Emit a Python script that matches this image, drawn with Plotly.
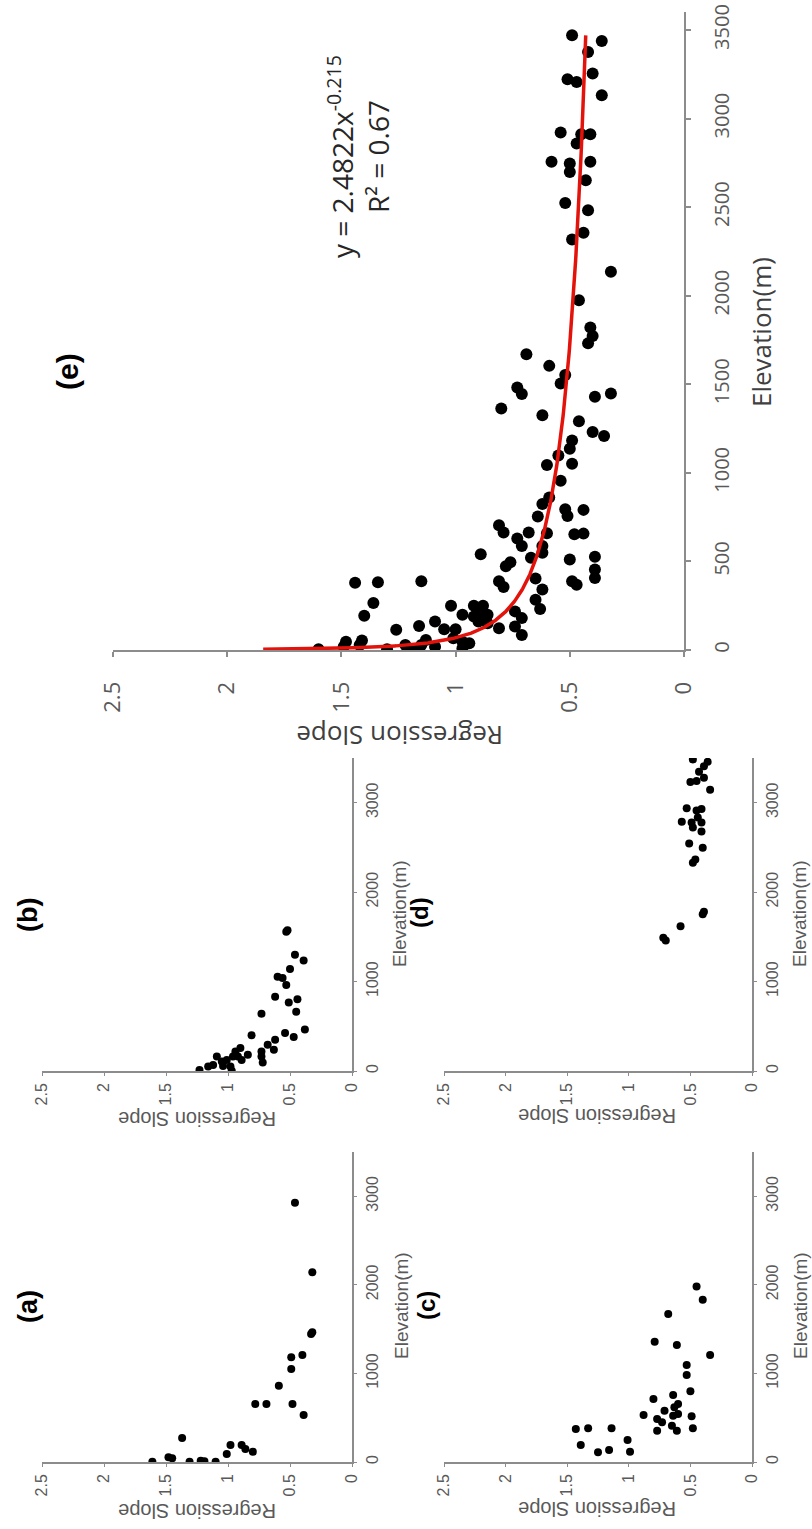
import numpy as np
import plotly.graph_objects as go

W, H = 812, 1529

# ---- data: elevation (m) and regression slope for each region ----
a_elev = [3, 53, 42, 271, 3, 15, 8, 3, 90, 192, 192, 147, 117, 655, 655,
          655, 531, 862, 1051, 1183, 1209, 1446, 1465, 2143, 2927]
a_slope = [1.61, 1.48, 1.45, 1.37, 1.31, 1.22, 1.19, 1.10, 1.01, 0.98, 0.89, 0.86, 0.80, 0.78, 0.69,
           0.48, 0.39, 0.59, 0.49, 0.49, 0.40, 0.33, 0.32, 0.32, 0.46]

b_elev = [1556, 1575, 1300, 1235, 1141, 1055, 1040, 961, 829, 802,
          765, 663, 640, 463, 426, 380, 350, 294, 237, 399,
          218, 162, 94, 181, 256, 218, 162, 162, 124, 124,
          162, 105, 68, 49, 3, 49, 11, 56]
b_slope = [0.53, 0.52, 0.46, 0.39, 0.50, 0.60, 0.56, 0.53, 0.62, 0.44,
           0.51, 0.45, 0.73, 0.38, 0.54, 0.47, 0.62, 0.68, 0.63, 0.81,
           0.73, 0.73, 0.72, 0.84, 0.90, 0.94, 0.96, 0.92, 0.89, 1.01,
           1.09, 1.05, 1.12, 0.98, 0.97, 1.16, 1.23, 1.04]

c_elev = [373, 381, 192, 381, 110, 136, 249, 117, 531, 712,
          354, 486, 448, 580, 410, 354, 523, 618, 655, 757,
          542, 516, 381, 799, 983, 1096, 1209, 1359, 1322, 1672,
          1831, 1981]
c_slope = [1.43, 1.33, 1.39, 1.14, 1.25, 1.16, 1.01, 0.99, 0.88, 0.80,
           0.77, 0.77, 0.73, 0.71, 0.65, 0.61, 0.64, 0.63, 0.60, 0.64,
           0.60, 0.49, 0.48, 0.50, 0.53, 0.53, 0.34, 0.79, 0.61, 0.68,
           0.40, 0.45]

d_elev = [1490, 1460, 1620, 1752, 1782, 2328, 2365, 2497, 2543, 2787,
          2780, 2723, 2780, 2678, 2938, 2912, 2930, 2836, 3145, 3280,
          3232, 3243, 3484, 3409, 3458, 3345]
d_slope = [0.72, 0.70, 0.58, 0.40, 0.39, 0.48, 0.46, 0.40, 0.51, 0.57,
           0.49, 0.48, 0.41, 0.41, 0.53, 0.45, 0.41, 0.44, 0.34, 0.39,
           0.50, 0.45, 0.48, 0.39, 0.36, 0.43]

e_elev = [1363, 1325, 1291, 1231, 1208, 1183, 1136, 1051, 1098, 1045,
          956, 861, 824, 754, 795, 757, 791, 653, 657, 659,
          663, 629, 587, 704, 663, 587, 549, 521, 496, 473,
          540, 511, 526, 454, 407, 388, 369, 403, 341, 284,
          231, 388, 356, 218, 180, 133, 85, 123, 379, 382,
          388, 265, 193, 250, 199, 250, 250, 189, 199, 161,
          151, 161, 117, 136, 114, 117, 66, 47, 38, 10,
          208, 57, 28, 19, 28, 4, 4, 53, 47, 19, 28, 4,
          3470, 3438, 3376, 3254, 3222, 3207, 3132, 2921, 2912, 2912,
          2859, 2756, 2746, 2699, 2756, 2652, 2524, 2483, 2355, 2317,
          2135, 1975, 1821, 1772, 1731, 1669, 1604, 1552, 1505, 1482,
          1445, 1430, 1448]
e_slope = [0.80, 0.62, 0.46, 0.40, 0.35, 0.49, 0.50, 0.49, 0.55, 0.60,
           0.54, 0.59, 0.62, 0.64, 0.52, 0.51, 0.44, 0.48, 0.44, 0.60,
           0.68, 0.73, 0.71, 0.81, 0.79, 0.62, 0.62, 0.67, 0.76, 0.78,
           0.89, 0.50, 0.39, 0.39, 0.39, 0.49, 0.47, 0.65, 0.62, 0.65,
           0.63, 0.81, 0.79, 0.74, 0.71, 0.74, 0.71, 0.81, 1.44, 1.34,
           1.15, 1.36, 1.40, 1.02, 0.97, 0.92, 0.88, 0.92, 0.86, 0.90,
           0.86, 1.09, 1.05, 1.16, 1.26, 1.00, 1.01, 0.97, 0.94, 0.97,
           0.89, 1.13, 1.15, 1.09, 1.22, 1.19, 1.30, 1.41, 1.48, 1.49, 1.42, 1.60,
           0.49, 0.36, 0.42, 0.40, 0.51, 0.47, 0.36, 0.54, 0.45, 0.41,
           0.47, 0.58, 0.50, 0.50, 0.41, 0.43, 0.52, 0.42, 0.44, 0.49,
           0.32, 0.46, 0.41, 0.40, 0.42, 0.69, 0.59, 0.52, 0.54, 0.73,
           0.71, 0.39, 0.32]

# power-law fit shown on panel (e)
FIT_COEF = 2.4822
FIT_EXP = -0.215
FIT_R2 = 0.67

slope_ticks = [0, 0.5, 1, 1.5, 2, 2.5]
slope_ticktext = ["0", "0.5", "1", "1.5", "2", "2.5"]
elev_ticks_big = [0, 500, 1000, 1500, 2000, 2500, 3000, 3500]
elev_ticks_small = [0, 1000, 2000, 3000]

AXIS_COLOR = "#8c8c8c"
TICK_COLOR = "#595959"
TITLE_COLOR = "#404040"
BIG_FONT = "Open Sans, Arial, sans-serif"
SMALL_FONT = "Liberation Sans, Arial, sans-serif"
LABEL_FONT = "Liberation Sans, Arial, sans-serif"


def px_x(p):
    return p / W


def px_y(p):
    return 1 - p / H


fig = go.Figure()

# panel geometry in pixels: (left, right, top, bottom), elevation max
panels = {
    "e": dict(ax="", box=(113, 684, 12.3, 650), emax=3600, big=True),
    "a": dict(ax="2", box=(42, 352, 1152, 1462), emax=3500, big=False),
    "b": dict(ax="3", box=(42, 352, 758, 1071), emax=3500, big=False),
    "c": dict(ax="4", box=(444, 752, 1152, 1462), emax=3500, big=False),
    "d": dict(ax="5", box=(444, 752, 758, 1071), emax=3500, big=False),
}
series = {
    "a": (a_elev, a_slope),
    "b": (b_elev, b_slope),
    "c": (c_elev, c_slope),
    "d": (d_elev, d_slope),
    "e": (e_elev, e_slope),
}

layout = {}
for name, p in panels.items():
    ax = p["ax"]
    l, r, t, b = p["box"]
    big = p["big"]
    elev, slope = series[name]
    fig.add_trace(go.Scatter(
        x=slope, y=elev, mode="markers",
        marker=dict(color="black", size=12 if big else 8),
        xaxis="x" + ax, yaxis="y" + ax, showlegend=False,
    ))
    layout["xaxis" + ax] = dict(
        domain=[px_x(l), px_x(r)], range=[2.5, 0], anchor="y" + ax,
        automargin=False,
        tickvals=slope_ticks, ticktext=slope_ticktext,
        showline=True, linecolor=AXIS_COLOR, linewidth=2 if big else 1.5,
        ticks="outside", ticklen=5 if big else 3, tickcolor=AXIS_COLOR,
        tickwidth=2 if big else 1,
        tickangle=-90, side="bottom", showgrid=False, zeroline=False,
        ticklabelstandoff=16 if big else 1,
        tickfont=dict(family=BIG_FONT if big else SMALL_FONT,
                      size=22 if big else 16, color=TICK_COLOR),
    )
    layout["yaxis" + ax] = dict(
        domain=[px_y(b), px_y(t)], range=[0, p["emax"]], anchor="x" + ax,
        automargin=False,
        tickvals=elev_ticks_big if big else elev_ticks_small,
        showline=True, linecolor=AXIS_COLOR, linewidth=2 if big else 1.5,
        ticks="outside", ticklen=5 if big else 3, tickcolor=AXIS_COLOR,
        tickwidth=2 if big else 1,
        tickangle=-90, side="right", showgrid=False, zeroline=False,
        ticklabelstandoff=14 if big else 2,
        tickfont=dict(family=BIG_FONT if big else SMALL_FONT,
                      size=20 if big else 16, color=TICK_COLOR),
    )

# fitted power-law trend line on panel (e)
fit_elev = np.geomspace(min(e_elev), max(e_elev), 400)
fit_slope = FIT_COEF * fit_elev ** FIT_EXP
fig.add_trace(go.Scatter(
    x=fit_slope, y=fit_elev, mode="lines",
    line=dict(color="#e3120b", width=3.5),
    xaxis="x", yaxis="y", showlegend=False,
))

annotations = []


def note(text, x, y, size, angle, family, color, bold=False):
    annotations.append(dict(
        text=f"<b>{text}</b>" if bold else text,
        x=px_x(x), y=px_y(y), xref="paper", yref="paper",
        xanchor="center", yanchor="middle", showarrow=False,
        textangle=angle, font=dict(family=family, size=size, color=color),
    ))


# panel letters
note("(e)", 67, 372, 30, -90, LABEL_FONT, "black", bold=True)
note("(b)", 28, 915, 27, -90, LABEL_FONT, "black", bold=True)
note("(a)", 28, 1307, 27, -90, LABEL_FONT, "black", bold=True)
note("(d)", 420, 913, 24, -90, LABEL_FONT, "black", bold=True)
note("(c)", 426, 1306, 24, -90, LABEL_FONT, "black", bold=True)

# fit equation
note(f"y = {FIT_COEF}x<sup>{FIT_EXP}</sup><br>R² = {FIT_R2}", 358, 157, 28, -90,
     BIG_FONT, "#262626")

# axis titles, panel (e)
note("Elevation(m)", 761, 332, 26, -90, BIG_FONT, TITLE_COLOR)
note("Regression Slope", 400, 736, 26, 180, BIG_FONT, TITLE_COLOR)

# axis titles, small panels
for cx, cy in [(399, 914), (799, 914), (401, 1306), (800, 1306)]:
    note("Elevation(m)", cx, cy, 19, -90, SMALL_FONT, "#595959")
for cx, cy in [(197, 1119), (597, 1116), (197, 1511), (597, 1509)]:
    note("Regression Slope", cx, cy, 20, 180, SMALL_FONT, "#595959")

fig.update_layout(
    width=W, height=H,
    margin=dict(l=0, r=0, t=0, b=0, autoexpand=False),
    paper_bgcolor="white", plot_bgcolor="white",
    annotations=annotations,
    **layout,
)

fig.write_html("out.html")
